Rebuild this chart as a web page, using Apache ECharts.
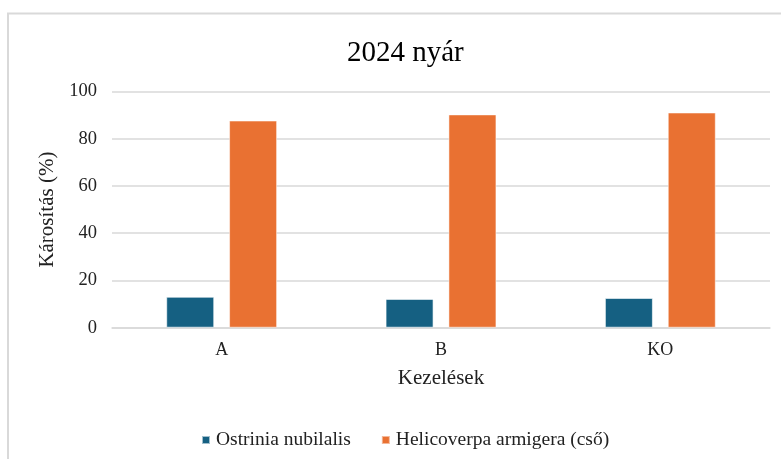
<!DOCTYPE html>
<html>
<head>
<meta charset="utf-8">
<script src="https://cdn.jsdelivr.net/npm/echarts@6/dist/echarts.min.js"></script>
<style>
  html, body { margin: 0; padding: 0; background: #fff; }
  #chart { width: 781px; height: 459px; }
</style>
</head>
<body>
<div id="chart"></div>
<script>
// data
const categories = ['A', 'B', 'KO'];
const ostrinia = [13.1, 12.2, 12.6];
const helicoverpa = [87.7, 90.3, 91.1];
const seriesNames = ['Ostrinia nubilalis', 'Helicoverpa armigera (cső)'];

const font = '"Liberation Serif", "DejaVu Serif", serif';

const chart = echarts.init(document.getElementById('chart'));
chart.setOption({
    animation: false,
    backgroundColor: '#fff',
    graphic: [{
        type: 'rect',
        shape: { x: 8, y: 13.5, width: 800, height: 500 },
        style: { fill: 'none', stroke: '#d9d9d9', lineWidth: 2 },
        silent: true
    }],
    title: {
        text: '2024 nyár',
        left: 342,
        top: 34,
        textStyle: { fontFamily: font, fontSize: 29, fontWeight: 'normal', color: '#000' }
    },
    legend: {
        top: 425,
        left: 196,
        icon: 'rect',
        itemWidth: 8,
        itemHeight: 8,
        itemGap: 30,
        textStyle: { fontFamily: font, fontSize: 19.5, color: '#222', padding: [0, 0, 0, 1] },
        data: seriesNames
    },
    grid: {
        left: 112,
        right: 11,
        top: 91.5,
        bottom: 131.3,
        containLabel: false
    },
    xAxis: {
        type: 'category',
        data: categories,
        name: 'Kezelések',
        nameLocation: 'middle',
        nameGap: 40,
        nameTextStyle: { fontFamily: font, fontSize: 21, color: '#222' },
        axisTick: { show: false },
        axisLine: { lineStyle: { color: '#d9d9d9', width: 1.5 } },
        axisLabel: { fontFamily: font, fontSize: 18, color: '#222', margin: 14 }
    },
    yAxis: {
        type: 'value',
        min: 0,
        max: 100,
        interval: 20,
        name: 'Károsítás (%)',
        nameLocation: 'middle',
        nameGap: 49,
        nameTextStyle: { fontFamily: font, fontSize: 21, color: '#222' },
        axisLine: { show: false },
        axisTick: { show: false },
        splitLine: { lineStyle: { color: '#d9d9d9', width: 1.5 } },
        axisLabel: { fontFamily: font, fontSize: 18.5, color: '#222', margin: 15 }
    },
    series: [
        {
            name: seriesNames[0],
            type: 'bar',
            data: ostrinia,
            barWidth: 48,
            barGap: '31%',
            itemStyle: { color: '#156082', borderColor: 'rgba(255,255,255,0.6)', borderWidth: 1 }
        },
        {
            name: seriesNames[1],
            type: 'bar',
            data: helicoverpa,
            barWidth: 48,
            itemStyle: { color: '#E97132', borderColor: 'rgba(255,255,255,0.5)', borderWidth: 1 }
        }
    ]
});
</script>
</body>
</html>
